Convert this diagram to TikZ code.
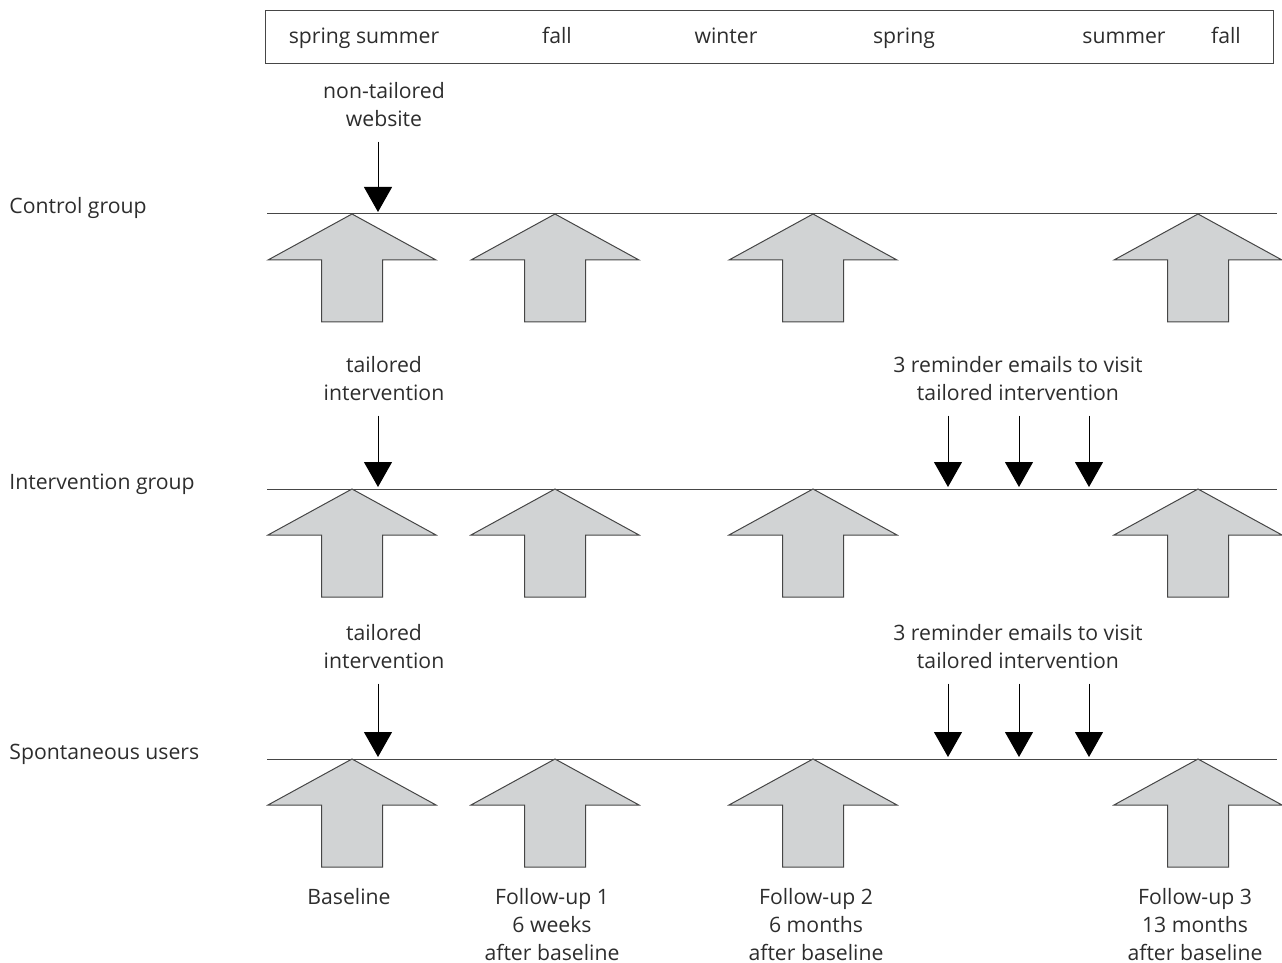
\documentclass[tikz,border=0pt]{standalone}
\usepackage{fontspec}
\setmainfont{Open Sans}
\usetikzlibrary{arrows.meta, positioning, calc}
\definecolor{linegray}{RGB}{70,70,70}
\definecolor{fillgray}{RGB}{209,211,212}
\definecolor{textgray}{RGB}{45,45,45}
\newcommand{\blockup}[2]{%
  \draw [blockarrow] (#1,#2) -- ++(84,46) -- ++(-53.5,0) -- ++(0,62) -- ++(-61,0) -- ++(0,-62) -- ++(-53.5,0) -- cycle;
}
\tikzstyle{lbl} = [font=\fontsize{10.6}{14}\selectfont, text=textgray, align=center, inner sep=0pt]
\tikzstyle{timeline} = [draw=linegray, line width=0.5pt]
\tikzstyle{blockarrow} = [draw=linegray, fill=fillgray, line width=0.5pt, line join=miter]
\tikzstyle{arrow} = [line width=0.5pt, draw=black, -{Triangle[width=14pt,length=12.5pt]}, shorten <=7pt]

\begin{document}
\begin{tikzpicture}[x=0.5pt, y=-0.5pt]
    \useasboundingbox (0,0) rectangle (1282,963);

    % season bar
    \node (season_bar) [draw=linegray, line width=0.5pt, minimum width=504pt, minimum height=26.5pt, inner sep=0pt] at (769,37.5) {};
    \node (s_spring1) [lbl, anchor=base] at (364,44) {spring summer};
    \node (s_fall1) [lbl, anchor=base] at (557,44) {fall};
    \node (s_winter) [lbl, anchor=base] at (726,44) {winter};
    \node (s_spring2) [lbl, anchor=base] at (904,44) {spring};
    \node (s_summer) [lbl, anchor=base] at (1124,44) {summer};
    \node (s_fall2) [lbl, anchor=base] at (1226,44) {fall};

    % group names
    \node (ctrl_name) [lbl, anchor=base west] at (9,214) {Control group};
    \node (int_name) [lbl, anchor=base west] at (9,489) {Intervention group};
    \node (spon_name) [lbl, anchor=base west] at (9,759) {Spontaneous users};

    % timelines
    \coordinate (ctrl_l) at (267,214);  \coordinate (ctrl_r) at (1277,214);
    \coordinate (int_l) at (267,489);   \coordinate (int_r) at (1277,489);
    \coordinate (spon_l) at (267,759);  \coordinate (spon_r) at (1277,759);
    \draw [timeline] (ctrl_l) -- (ctrl_r);
    \draw [timeline] (int_l) -- (int_r);
    \draw [timeline] (spon_l) -- (spon_r);

    % measurement points
    \blockup{352}{214} \blockup{555}{214} \blockup{813}{214} \blockup{1198}{214}
    \blockup{352}{489} \blockup{555}{489} \blockup{813}{489} \blockup{1198}{489}
    \blockup{352}{759} \blockup{555}{759} \blockup{813}{759} \blockup{1198}{759}

    % what each group gets
    \node (ctrl_lbl) [lbl] at (384,105) {non-tailored\\website};
    \node (int_lbl) [lbl] at (384,379) {tailored\\intervention};
    \node (int_mail) [lbl] at (1018,379) {3 reminder emails to visit\\tailored intervention};
    \node (spon_lbl) [lbl] at (384,647) {tailored\\intervention};
    \node (spon_mail) [lbl] at (1018,647) {3 reminder emails to visit\\tailored intervention};

    \coordinate (ctrl_in) at (378,212);
    \coordinate (int_in) at (378,487);
    \coordinate (int_m1) at (948,487);
    \coordinate (int_m2) at (1019,487);
    \coordinate (int_m3) at (1089,487);
    \coordinate (spon_in) at (378,757);
    \coordinate (spon_m1) at (948,757);
    \coordinate (spon_m2) at (1019,757);
    \coordinate (spon_m3) at (1089,757);

    \draw [arrow] (ctrl_lbl.south -| ctrl_in) -- (ctrl_in);
    \draw [arrow] (int_lbl.south -| int_in) -- (int_in);
    \draw [arrow] (int_mail.south -| int_m1) -- (int_m1);
    \draw [arrow] (int_mail.south -| int_m2) -- (int_m2);
    \draw [arrow] (int_mail.south -| int_m3) -- (int_m3);
    \draw [arrow] (spon_lbl.south -| spon_in) -- (spon_in);
    \draw [arrow] (spon_mail.south -| spon_m1) -- (spon_m1);
    \draw [arrow] (spon_mail.south -| spon_m2) -- (spon_m2);
    \draw [arrow] (spon_mail.south -| spon_m3) -- (spon_m3);

    % time points
    \node (baseline) [lbl] at (349,897) {Baseline};
    \node (fu1) [lbl] at (552,925) {Follow-up 1\\6 weeks\\after baseline};
    \node (fu2) [lbl] at (816,925) {Follow-up 2\\6 months\\after baseline};
    \node (fu3) [lbl] at (1195,925) {Follow-up 3\\13 months\\after baseline};

\end{tikzpicture}
\end{document}
